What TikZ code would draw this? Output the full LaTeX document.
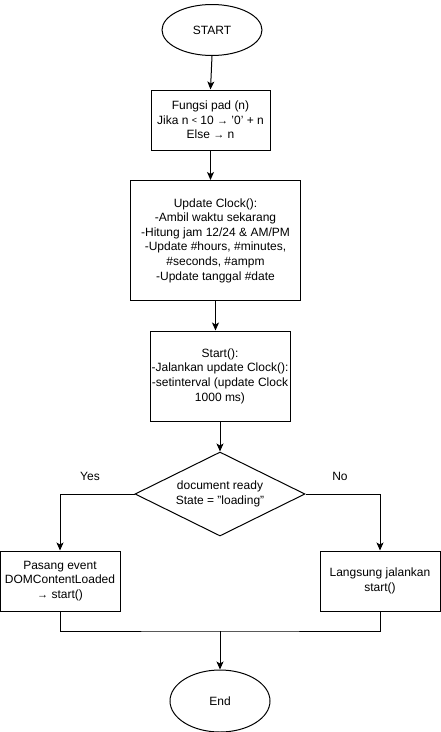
\documentclass[tikz,border=0pt]{standalone}
\usepackage{fontspec}
\setmainfont{Liberation Sans}
\usetikzlibrary{shapes.geometric,arrows.meta}
\newcommand{\smallra}{{\fontsize{11}{12}\selectfont →}}
\newcommand{\smalllt}{\raisebox{0.5pt}{\fontsize{9}{10}\selectfont <}}
\begin{document}
\begin{tikzpicture}[x=1pt,y=-1pt,line width=1pt,
  every node/.style={font=\fontsize{12}{14.6}\selectfont, align=center, inner sep=0pt},
  term/.style={draw, ellipse, minimum width=100pt},
  proc/.style={draw, rectangle},
  deci/.style={draw, diamond},
  arr/.style={-{Stealth[length=8pt,width=7pt,inset=2pt]}},
  lbl/.style={}]
\useasboundingbox[fill=white] (0,0) rectangle (441,732);
\node[term, minimum height=51pt] (start) at (212,30) {START};
\node[proc, minimum width=119pt, minimum height=60pt] (pad) at (210.5,120) {Fungsi pad (n)\\Jika n \smalllt{} 10 \smallra{} '0' + n\\Else \smallra{} n};
\node[proc, minimum width=170pt, minimum height=120pt] (clock) at (215.5,240.5) {Update Clock():\\-Ambil waktu sekarang\\-Hitung jam 12/24 \& AM/PM\\-Update \#hours, \#minutes,\\\#seconds, \#ampm\\-Update tanggal \#date};
\node[proc, minimum width=140pt, minimum height=90pt] (st) at (220,376) {};
\node at (st.center) {Start():\\-Jalankan update Clock():\\-setinterval (update Clock\\1000 ms)};
\node[deci, minimum width=170pt, minimum height=84pt, aspect=2] (dec) at (220,494) {};
\node at (dec.center) {document ready\\State = "loading"};
\node[proc, minimum width=120pt, minimum height=60pt] (yesbox) at (60,581) {Pasang event\\DOMContentLoaded\\\smallra{} start()};
\node[proc, minimum width=120pt, minimum height=60pt] (nobox) at (380,581) {Langsung jalankan\\start()};
\node[term, minimum height=62pt] (end) at (220,701) {End};
\node[lbl] (yes) at (90,476) {Yes};
\node[lbl] (no) at (340,476) {No};
\coordinate (merge) at (220,631);
\draw[arr] (start.south) -- (pad.north);
\draw[arr] (pad.south) -- (pad.south |- clock.north);
\draw[arr] (clock.south) -- (clock.south |- st.north);
\draw[arr] (st.south) -- (dec.north);
\draw[arr] (dec.west) -| (yesbox.north);
\draw[arr] (dec.east) -| (nobox.north);
\draw (yesbox.south) |- (merge) -| (nobox.south);
\draw[arr] (merge) -- (end.north);
\end{tikzpicture}
\end{document}
